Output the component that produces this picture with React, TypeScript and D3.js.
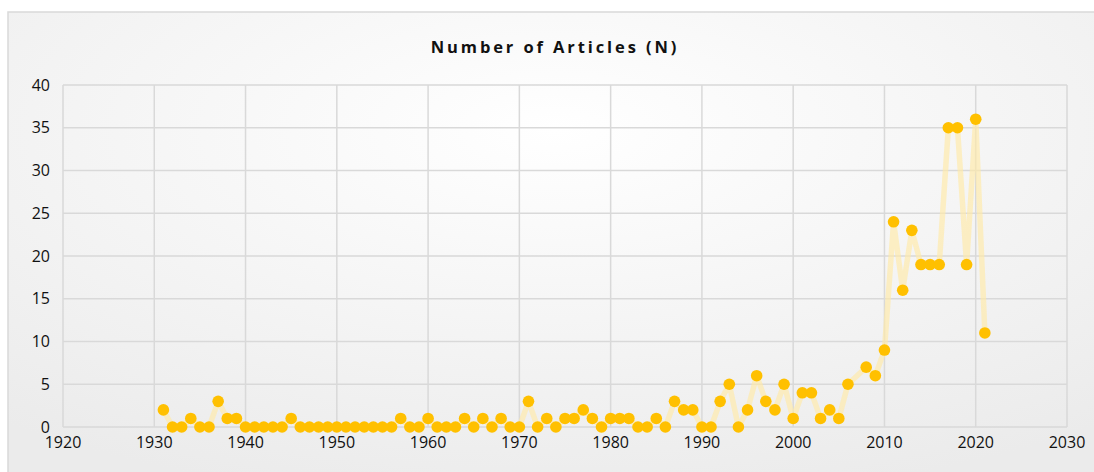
import * as d3 from 'd3';

// Articles per year (1931–2021, 2007 has no value)
const years = [
  1931, 1932, 1933, 1934, 1935, 1936, 1937, 1938, 1939, 1940,
  1941, 1942, 1943, 1944, 1945, 1946, 1947, 1948, 1949, 1950,
  1951, 1952, 1953, 1954, 1955, 1956, 1957, 1958, 1959, 1960,
  1961, 1962, 1963, 1964, 1965, 1966, 1967, 1968, 1969, 1970,
  1971, 1972, 1973, 1974, 1975, 1976, 1977, 1978, 1979, 1980,
  1981, 1982, 1983, 1984, 1985, 1986, 1987, 1988, 1989, 1990,
  1991, 1992, 1993, 1994, 1995, 1996, 1997, 1998, 1999, 2000,
  2001, 2002, 2003, 2004, 2005, 2006, 2008, 2009, 2010,
  2011, 2012, 2013, 2014, 2015, 2016, 2017, 2018, 2019, 2020,
  2021,
];
const articles = [
  2, 0, 0, 1, 0, 0, 3, 1, 1, 0,
  0, 0, 0, 0, 1, 0, 0, 0, 0, 0,
  0, 0, 0, 0, 0, 0, 1, 0, 0, 1,
  0, 0, 0, 1, 0, 1, 0, 1, 0, 0,
  3, 0, 1, 0, 1, 1, 2, 1, 0, 1,
  1, 1, 0, 0, 1, 0, 3, 2, 2, 0,
  0, 3, 5, 0, 2, 6, 3, 2, 5, 1,
  4, 4, 1, 2, 1, 5, 7, 6, 9,
  24, 16, 23, 19, 19, 19, 35, 35, 19, 36,
  11,
];
const xTicks = [1920, 1930, 1940, 1950, 1960, 1970, 1980, 1990, 2000, 2010, 2020, 2030];
const yTicks = [0, 5, 10, 15, 20, 25, 30, 35, 40];

const W = 1094;
const H = 472;
const plot = { left: 63, right: 1067, top: 85, bottom: 427 };
const font = "'Open Sans', 'Noto Sans', sans-serif";

export default function App() {
  const x = d3.scaleLinear().domain([1920, 2030]).range([plot.left, plot.right]);
  const y = d3.scaleLinear().domain([0, 40]).range([plot.bottom, plot.top]);

  const points = years.map((yr, i) => ({ yr, v: articles[i] }));
  const line = d3.line<{ yr: number; v: number }>()
    .x(d => x(d.yr))
    .y(d => y(d.v));

  return (
    <svg width={W} height={H} style={{ position: 'absolute', left: 0, top: 0 }}>
      <defs>
        <radialGradient id="bg" cx="50%" cy="25%" r="80%">
          <stop offset="0%" stopColor="#ffffff" />
          <stop offset="100%" stopColor="#ebebeb" />
        </radialGradient>
      </defs>
      <rect x={0} y={0} width={W} height={H} fill="#ffffff" />
      <rect x={8} y={12} width={W} height={H} fill="url(#bg)" stroke="#d9d9d9" strokeWidth={1.5} />

      <text x={555} y={53} textAnchor="middle" fontFamily={font} fontSize={16.5}
        fontWeight="bold" letterSpacing={2.9} fill="#111">
        Number of Articles (N)
      </text>

      {/* gridlines */}
      {yTicks.map(t => (
        <line key={'gy' + t} x1={plot.left} x2={plot.right} y1={y(t)} y2={y(t)}
          stroke="#d9d9d9" strokeWidth={1.5} />
      ))}
      {xTicks.map(t => (
        <line key={'gx' + t} x1={x(t)} x2={x(t)} y1={plot.top} y2={plot.bottom}
          stroke="#d9d9d9" strokeWidth={1.5} />
      ))}

      {/* tick labels */}
      {yTicks.map(t => (
        <text key={'ty' + t} x={plot.left - 13} y={y(t) + 5.5} textAnchor="end"
          fontFamily={font} fontSize={16} fill="#111">{t}</text>
      ))}
      {xTicks.map(t => (
        <text key={'tx' + t} x={x(t)} y={plot.bottom + 20.5} textAnchor="middle"
          fontFamily={font} fontSize={16} fill="#111">{t}</text>
      ))}

      {/* series */}
      <path d={line(points) ?? ''} fill="none" stroke="#ffe9a8" strokeOpacity={0.65}
        strokeWidth={5.5} strokeLinejoin="round" />
      {points.map(p => (
        <circle key={p.yr} cx={x(p.yr)} cy={y(p.v)} r={5.8} fill="#ffc000" />
      ))}
    </svg>
  );
}
